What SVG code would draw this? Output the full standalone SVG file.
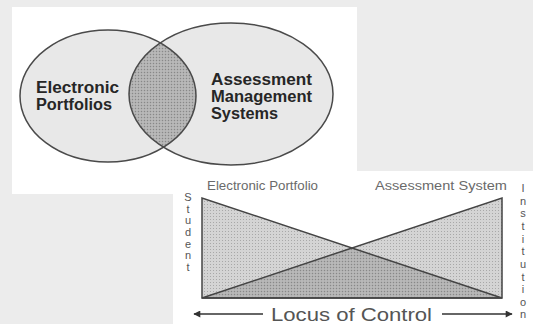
<svg xmlns="http://www.w3.org/2000/svg" width="533" height="324" viewBox="0 0 533 324">
<defs>
<style>
.bold{font-family:"Liberation Sans",Arial,sans-serif;font-weight:bold;font-size:16px;fill:#262626}
.small{font-family:"Liberation Sans",Arial,sans-serif;font-size:12px;fill:#6a6a6a}
.vert{font-family:"Liberation Sans",Arial,sans-serif;font-size:11px;fill:#555;text-anchor:middle}
.locus{font-family:"Liberation Sans",Arial,sans-serif;font-size:18px;fill:#555}
.edge{stroke:#4a4a4a;stroke-width:1.5;fill:none}
</style>
<pattern id="dotsLight" width="3" height="3" patternUnits="userSpaceOnUse">
<rect width="3" height="3" fill="#d4d4d4"/>
<rect x="0" y="0" width="1" height="1" fill="#a8a8a8"/>
</pattern>
<pattern id="dotsDark" width="3" height="3" patternUnits="userSpaceOnUse">
<rect width="3" height="3" fill="#b0b0b0"/>
<rect x="0" y="0" width="1" height="1" fill="#888"/>
<rect x="1.5" y="1.5" width="1" height="1" fill="#d0d0d0"/>
</pattern>
<clipPath id="leftEll"><ellipse cx="108" cy="96" rx="88" ry="66"/></clipPath>
<marker id="arr" viewBox="0 0 10 10" refX="9" refY="5" markerWidth="9" markerHeight="7" orient="auto" markerUnits="userSpaceOnUse">
<path d="M0,0 L10,5 L0,10 Z" fill="#333"/>
</marker>
</defs>
<rect width="533" height="324" fill="#ececec"/>
<rect x="12" y="7" width="345" height="187" fill="#ffffff"/>
<rect x="173" y="171" width="360" height="153" fill="#ffffff"/>

<g id="venn">
<g id="ellipse-electronic-portfolios">
<ellipse cx="108" cy="96" rx="88" ry="66" fill="#e8e8e8"/>
</g>
<g id="ellipse-assessment-management">
<ellipse cx="231" cy="94" rx="102" ry="71" fill="#e8e8e8"/>
</g>
<g id="overlap">
<ellipse cx="231" cy="94" rx="102" ry="71" fill="url(#dotsDark)" clip-path="url(#leftEll)"/>
</g>
<ellipse class="edge" cx="108" cy="96" rx="88" ry="66"/>
<ellipse class="edge" cx="231" cy="94" rx="102" ry="71"/>
<text class="bold" x="36" y="93" textLength="83" lengthAdjust="spacingAndGlyphs">Electronic</text>
<text class="bold" x="36" y="110" textLength="76" lengthAdjust="spacingAndGlyphs">Portfolios</text>
<text class="bold" x="211" y="85" textLength="101" lengthAdjust="spacingAndGlyphs">Assessment</text>
<text class="bold" x="211" y="102" textLength="101" lengthAdjust="spacingAndGlyphs">Management</text>
<text class="bold" x="211" y="119" textLength="67" lengthAdjust="spacingAndGlyphs">Systems</text>
</g>

<g id="locus">
<g id="triangle-portfolio">
<polygon points="202,198 202,298 502,298" fill="url(#dotsLight)"/>
</g>
<g id="triangle-assessment">
<polygon points="502,198 502,298 202,298" fill="url(#dotsLight)"/>
</g>
<g id="triangle-overlap">
<polygon points="202,298 352,248 502,298" fill="url(#dotsDark)"/>
</g>
<g fill="none" stroke="#444" stroke-width="1.5">
<polygon points="202,198 202,298 502,298"/>
<polygon points="502,198 502,298 202,298"/>
</g>
<text class="small" x="207" y="190" textLength="111" lengthAdjust="spacingAndGlyphs">Electronic Portfolio</text>
<text class="small" x="375" y="190" textLength="132" lengthAdjust="spacingAndGlyphs">Assessment System</text>
<g id="label-student" class="vert">
<text x="188" y="201">S</text>
<text x="188" y="213">t</text>
<text x="188" y="224">u</text>
<text x="188" y="236">d</text>
<text x="188" y="248">e</text>
<text x="188" y="259">n</text>
<text x="188" y="271">t</text>
</g>
<g id="label-institution" class="vert">
<text x="523" y="192">I</text>
<text x="523" y="205">n</text>
<text x="523" y="217">s</text>
<text x="523" y="230">t</text>
<text x="523" y="243">i</text>
<text x="523" y="255">t</text>
<text x="523" y="268">u</text>
<text x="523" y="281">t</text>
<text x="523" y="293">i</text>
<text x="523" y="306">o</text>
<text x="523" y="318">n</text>
</g>
<text class="locus" x="271" y="321" textLength="161" lengthAdjust="spacingAndGlyphs">Locus of Control</text>
</g>

<g id="connectors" stroke="#333" stroke-width="1.5" fill="none">
<line x1="263" y1="314" x2="194" y2="314" marker-end="url(#arr)"/>
<line x1="442" y1="314" x2="512" y2="314" marker-end="url(#arr)"/>
</g>
</svg>
